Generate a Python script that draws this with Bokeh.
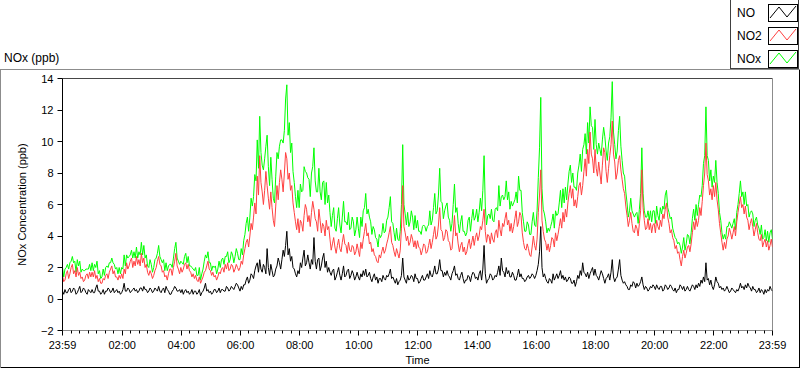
from bokeh.plotting import figure
from bokeh.models import Range1d, FixedTicker, Span, ColumnDataSource, Div
from bokeh.layouts import column
from bokeh.embed import file_html
from bokeh.resources import INLINE

FONT = "Liberation Sans"

# ---------------- data (ppb), one value every 2.5 minutes starting at 23:59 ----------------
step_minutes = 2.5
no_ppb = [
    0.5, 0.3, 0.6, 0.4, 0.4, 0.6, 0.7, 0.4, 0.5, 0.7, 0.6, 0.3, 0.4, 0.6, 0.8, 0.4, 0.5, 0.7, 0.6, 0.4, 0.3, 0.6, 0.5, 0.4,
    0.6, 0.4, 0.4, 0.7, 0.9, 0.5, 0.5, 0.3, 0.4, 0.6, 0.3, 0.5, 0.5, 0.7, 0.6, 0.4, 0.5, 0.7, 0.4, 0.5, 0.6, 0.4, 0.5, 0.3,
    0.4, 0.6, 1.0, 0.5, 0.5, 0.7, 0.6, 0.4, 0.5, 0.6, 0.7, 0.5, 0.6, 0.4, 0.5, 0.7, 0.7, 0.5, 0.8, 0.6, 0.6, 0.4, 0.5, 0.7,
    0.6, 0.4, 0.5, 0.7, 0.6, 0.5, 0.8, 0.5, 0.4, 0.6, 0.7, 0.4, 0.8, 0.6, 0.5, 0.3, 0.3, 0.5, 0.6, 0.8, 0.7, 0.5, 0.5, 0.6,
    0.4, 0.6, 0.3, 0.5, 0.6, 0.4, 0.5, 0.3, 0.4, 0.6, 0.3, 0.5, 0.5, 0.3, 0.4, 0.6, 0.2, 0.4, 0.5, 0.7, 1.0, 0.5, 0.6, 0.4,
    0.5, 0.3, 0.4, 0.6, 0.6, 0.4, 0.5, 0.7, 0.4, 0.6, 0.6, 0.5, 0.5, 0.8, 0.7, 0.5, 0.6, 0.8, 0.7, 0.6, 0.8, 1.0, 0.9, 0.7,
    0.5, 0.8, 0.6, 0.9, 0.9, 1.2, 1.4, 1.0, 1.2, 1.6, 1.5, 1.3, 1.8, 2.1, 2.3, 1.7, 2.5, 1.9, 1.7, 2.2, 2.0, 1.6, 3.2, 2.0,
    1.5, 2.2, 1.8, 1.4, 1.5, 1.9, 2.1, 2.6, 2.3, 1.9, 2.5, 3.1, 2.7, 3.4, 4.3, 2.8, 3.2, 2.4, 2.7, 2.0, 1.9, 1.6, 1.4, 1.8,
    1.6, 2.3, 2.0, 2.6, 3.1, 2.1, 2.3, 2.8, 2.3, 1.9, 2.5, 2.2, 3.9, 2.4, 1.9, 2.5, 2.6, 1.8, 2.1, 2.6, 2.9, 2.0, 2.4, 1.7,
    2.0, 1.7, 1.5, 1.8, 1.9, 1.2, 1.4, 1.7, 2.0, 1.5, 1.2, 1.6, 2.1, 1.4, 1.5, 1.8, 1.9, 1.3, 1.5, 1.8, 1.6, 1.2, 1.4, 1.7,
    1.4, 1.2, 1.6, 1.4, 1.8, 1.5, 1.9, 1.4, 1.5, 1.7, 1.3, 1.1, 1.4, 1.6, 1.2, 1.4, 1.0, 1.3, 1.3, 1.1, 1.5, 1.3, 1.2, 1.5,
    1.4, 1.6, 1.9, 1.3, 1.4, 1.2, 1.0, 1.3, 0.9, 1.1, 1.2, 1.5, 2.6, 1.4, 1.2, 1.0, 1.5, 1.2, 1.3, 1.5, 1.4, 1.1, 1.6, 1.3,
    1.3, 1.0, 1.1, 1.3, 1.5, 1.2, 1.2, 1.4, 1.6, 1.3, 1.8, 1.5, 1.4, 1.7, 2.1, 1.6, 1.6, 1.9, 2.5, 1.8, 1.8, 1.4, 1.7, 1.5,
    1.8, 1.5, 1.4, 1.2, 1.6, 1.8, 2.1, 1.5, 1.6, 1.3, 1.2, 1.5, 1.7, 1.3, 1.0, 1.2, 1.2, 1.5, 1.4, 1.1, 1.5, 1.7, 1.6, 1.3,
    1.4, 1.2, 1.6, 1.8, 1.2, 1.9, 3.4, 1.6, 1.0, 1.2, 1.3, 1.6, 1.5, 1.2, 1.3, 1.5, 1.4, 1.7, 2.1, 1.5, 2.6, 1.8, 1.7, 1.4,
    2.0, 1.6, 1.8, 1.4, 1.4, 1.7, 1.5, 1.2, 1.2, 1.5, 1.9, 1.4, 1.6, 1.3, 1.3, 1.1, 1.2, 1.4, 1.5, 1.3, 1.4, 1.6, 1.5, 1.3,
    1.5, 1.8, 2.2, 3.0, 4.6, 2.0, 1.4, 1.6, 1.3, 1.1, 1.0, 1.3, 1.2, 1.0, 1.6, 1.2, 1.4, 1.6, 1.3, 1.5, 1.8, 1.3, 1.5, 1.2,
    1.4, 1.1, 1.2, 1.4, 1.3, 1.0, 1.0, 1.2, 0.8, 1.1, 1.5, 1.3, 1.8, 1.5, 2.3, 1.7, 1.6, 1.4, 1.7, 1.3, 1.6, 1.8, 2.0, 1.5,
    1.9, 1.5, 1.4, 1.2, 1.5, 1.8, 1.6, 1.3, 1.0, 1.3, 1.4, 1.6, 1.2, 1.7, 2.5, 1.4, 1.1, 1.3, 1.4, 1.9, 2.5, 1.5, 1.2, 1.0,
    1.1, 0.9, 0.8, 0.6, 0.6, 0.9, 0.8, 1.1, 1.0, 0.7, 1.0, 0.8, 0.9, 1.1, 1.4, 0.9, 0.6, 0.8, 0.7, 0.5, 0.6, 0.8, 0.7, 0.9,
    0.8, 0.6, 0.9, 0.7, 0.6, 0.8, 0.8, 0.5, 0.6, 0.9, 0.8, 0.6, 0.7, 0.9, 0.8, 0.6, 0.5, 0.7, 0.4, 0.6, 0.6, 0.9, 0.8, 0.6,
    0.8, 0.5, 0.6, 0.8, 0.6, 0.5, 0.7, 0.9, 0.8, 0.6, 0.9, 0.7, 1.0, 0.8, 1.2, 1.0, 1.4, 1.1, 2.3, 1.2, 1.3, 0.9, 1.2, 0.8,
    0.6, 0.9, 1.4, 1.1, 1.0, 0.7, 0.8, 0.6, 0.7, 0.5, 0.6, 0.8, 0.6, 0.4, 0.5, 0.7, 0.6, 0.5, 0.4, 0.6, 0.5, 0.7, 1.0, 0.7,
    0.8, 0.6, 0.9, 0.7, 1.0, 0.8, 0.7, 0.5, 0.8, 0.6, 0.6, 0.4, 0.5, 0.7, 0.4, 0.6, 0.5, 0.3, 0.6, 0.4, 0.6, 0.5, 0.8, 0.6,
    0.5,
]
no2_ppb = [
    1.5, 1.1, 1.2, 1.6, 1.8, 1.3, 1.6, 2.0, 2.2, 1.6, 1.8, 1.4, 2.0, 1.5, 1.7, 1.3, 1.4, 1.1, 1.2, 1.5, 1.6, 1.3, 1.7, 1.4,
    1.7, 1.4, 1.8, 1.3, 1.5, 1.1, 1.3, 1.0, 1.0, 1.3, 1.2, 1.5, 1.6, 1.3, 1.7, 1.9, 2.1, 1.6, 1.8, 1.4, 1.4, 1.2, 1.5, 1.3,
    1.6, 1.3, 1.9, 1.6, 2.3, 1.9, 2.1, 2.4, 2.6, 2.0, 2.4, 2.1, 2.7, 2.2, 2.5, 2.1, 2.9, 2.3, 2.6, 2.0, 2.2, 1.7, 1.5, 1.8,
    1.6, 1.3, 1.5, 1.8, 2.0, 2.4, 2.7, 2.2, 2.1, 1.7, 1.8, 1.4, 1.5, 1.2, 1.6, 1.9, 1.9, 1.5, 2.0, 2.4, 2.9, 2.1, 1.9, 1.6,
    2.0, 1.7, 1.9, 2.2, 2.3, 1.9, 2.2, 1.8, 1.7, 1.4, 1.6, 1.3, 1.5, 1.2, 1.1, 1.4, 1.0, 1.2, 1.4, 1.7, 1.8, 2.1, 2.4, 1.9,
    1.8, 1.5, 1.7, 1.4, 1.5, 1.2, 1.4, 1.7, 1.6, 1.9, 2.0, 1.7, 2.2, 1.9, 2.3, 1.8, 1.9, 2.2, 2.1, 1.7, 1.9, 2.2, 2.0, 1.8,
    2.0, 2.4, 2.2, 2.8, 3.2, 3.6, 3.8, 3.3, 4.0, 4.8, 4.4, 5.2, 6.1, 5.4, 7.8, 6.6, 9.1, 7.4, 6.8, 6.0, 6.9, 8.1, 7.2, 6.4,
    5.7, 6.8, 5.8, 5.0, 4.6, 5.9, 7.2, 6.3, 7.4, 8.2, 7.6, 6.8, 8.0, 9.3, 8.9, 7.6, 8.0, 6.9, 7.2, 6.1, 5.5, 4.9, 4.4, 5.1,
    4.2, 5.0, 4.8, 4.3, 5.3, 6.0, 5.7, 4.9, 5.3, 4.6, 5.5, 6.2, 5.7, 5.1, 4.9, 4.3, 5.7, 5.0, 4.2, 4.8, 4.6, 4.0, 5.0, 4.4,
    4.6, 3.8, 3.1, 3.5, 3.9, 3.3, 2.9, 3.4, 3.8, 3.2, 3.0, 3.6, 4.1, 3.5, 3.4, 2.9, 3.6, 3.1, 3.0, 3.4, 3.3, 2.8, 3.0, 3.5,
    3.1, 2.7, 3.6, 3.2, 3.8, 4.3, 4.8, 4.0, 4.2, 3.5, 3.6, 3.0, 3.2, 2.8, 2.7, 2.4, 2.3, 2.8, 2.6, 3.0, 3.3, 2.9, 3.1, 3.5,
    3.8, 4.2, 4.6, 3.6, 3.4, 3.0, 2.7, 3.2, 2.9, 2.6, 3.1, 4.5, 7.2, 4.6, 4.2, 3.7, 4.0, 3.4, 3.6, 4.1, 3.8, 3.3, 3.7, 3.2,
    3.7, 3.3, 3.2, 2.8, 3.1, 3.5, 3.4, 2.9, 3.0, 3.4, 3.8, 3.2, 3.6, 4.1, 4.6, 3.8, 4.0, 4.7, 5.8, 4.4, 4.3, 3.7, 3.9, 4.4,
    4.3, 3.7, 3.6, 3.1, 3.2, 4.2, 5.3, 4.0, 4.2, 3.5, 3.0, 3.4, 3.6, 3.0, 3.3, 2.8, 3.0, 3.5, 3.8, 3.2, 3.6, 4.0, 3.4, 3.9,
    4.2, 3.7, 4.0, 4.6, 4.4, 5.0, 5.7, 4.3, 3.6, 4.1, 4.0, 3.5, 4.2, 3.8, 3.6, 4.2, 4.4, 3.9, 5.0, 4.4, 4.0, 4.8, 4.6, 5.1,
    5.5, 4.7, 5.0, 4.3, 4.8, 4.2, 4.6, 5.1, 5.6, 4.6, 4.9, 5.5, 5.3, 4.2, 3.6, 3.2, 3.1, 3.5, 3.2, 2.8, 2.7, 3.3, 4.0, 3.4,
    3.1, 3.8, 5.5, 6.6, 8.2, 5.0, 4.3, 3.8, 3.6, 3.1, 3.5, 3.0, 3.4, 3.9, 3.8, 3.3, 4.2, 3.7, 4.1, 4.6, 5.1, 4.5, 5.5, 4.9,
    5.7, 5.2, 6.1, 6.7, 7.2, 6.4, 7.0, 5.9, 6.3, 5.8, 6.5, 7.2, 7.4, 6.6, 7.2, 8.1, 8.9, 7.8, 9.5, 8.6, 10.6, 9.2, 8.9, 8.0,
    9.5, 8.3, 7.8, 8.7, 8.0, 7.3, 8.5, 9.6, 9.3, 8.1, 7.4, 8.3, 9.1, 9.8, 11.3, 9.2, 8.7, 7.6, 8.0, 8.8, 9.1, 8.2, 7.6, 7.0,
    6.7, 5.9, 5.3, 4.6, 5.0, 5.5, 4.8, 4.3, 4.2, 4.7, 4.5, 4.0, 4.8, 5.6, 8.2, 5.8, 5.0, 4.4, 4.5, 5.1, 4.4, 4.8, 4.2, 4.7,
    4.8, 4.2, 5.0, 4.6, 4.4, 5.0, 4.6, 5.4, 5.1, 5.7, 6.1, 5.2, 4.8, 4.2, 4.4, 3.9, 3.7, 3.2, 3.4, 2.9, 3.0, 2.5, 2.1, 2.7,
    3.1, 2.6, 2.9, 3.3, 3.4, 3.0, 3.5, 4.2, 4.9, 4.4, 5.1, 4.6, 5.0, 5.8, 5.3, 6.2, 7.2, 8.0, 9.9, 7.9, 7.5, 6.6, 7.0, 6.3,
    7.2, 6.5, 7.4, 6.3, 5.7, 4.8, 4.2, 3.6, 3.1, 3.6, 3.2, 3.8, 4.0, 4.5, 4.2, 3.8, 4.2, 4.6, 4.0, 4.9, 5.5, 6.0, 6.5, 5.8,
    6.0, 5.4, 5.9, 5.2, 5.0, 4.4, 4.8, 5.1, 4.6, 4.0, 4.4, 4.8, 4.2, 3.8, 3.7, 4.1, 3.3, 3.6, 3.8, 3.3, 3.7, 3.1, 3.4, 3.8,
    3.3,
]
nox_ppb = [
    2.0, 1.4, 1.9, 2.0, 2.2, 1.9, 2.3, 2.4, 2.7, 2.3, 2.4, 1.7, 2.5, 2.1, 2.4, 1.7, 1.9, 1.8, 1.8, 1.9, 1.9, 1.9, 2.2, 1.8,
    2.3, 1.8, 2.2, 2.0, 2.4, 1.6, 1.8, 1.3, 1.4, 1.9, 1.5, 2.0, 2.1, 2.0, 2.3, 2.3, 2.6, 2.3, 2.2, 1.9, 2.0, 1.6, 2.0, 1.6,
    2.0, 1.9, 2.8, 2.1, 2.8, 2.6, 2.7, 2.8, 3.1, 2.6, 3.0, 2.6, 3.3, 2.6, 3.0, 2.8, 3.6, 2.8, 3.4, 2.6, 2.8, 2.1, 2.0, 2.5,
    2.2, 1.7, 2.0, 2.5, 2.6, 2.9, 3.4, 2.7, 2.5, 2.3, 2.5, 1.8, 2.3, 1.8, 2.1, 2.2, 2.2, 2.0, 2.6, 3.2, 3.6, 2.6, 2.4, 2.2,
    2.4, 2.3, 2.2, 2.7, 2.9, 2.3, 2.7, 2.1, 2.1, 2.0, 1.9, 1.8, 2.0, 1.5, 1.5, 2.0, 1.2, 1.6, 1.9, 2.4, 2.8, 2.6, 3.0, 2.3,
    2.3, 1.8, 2.1, 2.0, 2.1, 1.6, 1.9, 2.4, 2.0, 2.5, 2.6, 2.2, 2.7, 2.7, 3.0, 2.3, 2.5, 3.0, 2.8, 2.3, 2.7, 3.2, 2.9, 2.5,
    2.5, 3.2, 2.8, 3.7, 4.1, 4.8, 5.2, 4.3, 5.2, 6.4, 5.9, 6.5, 7.9, 7.5, 10.1, 8.3, 11.6, 9.3, 8.5, 8.2, 8.9, 9.7, 10.4, 8.4,
    7.2, 9.0, 7.6, 6.4, 6.1, 7.8, 9.3, 8.9, 9.7, 10.1, 10.1, 9.9, 10.7, 12.7, 13.6, 10.4, 11.2, 9.3, 9.9, 8.1, 7.4, 6.5, 5.8, 6.9,
    5.8, 7.3, 6.8, 6.9, 8.4, 8.1, 8.0, 7.7, 7.6, 6.5, 8.0, 8.4, 9.6, 7.5, 6.8, 6.8, 8.3, 6.8, 6.3, 7.4, 7.5, 6.0, 7.4, 6.1,
    6.6, 5.5, 4.6, 5.3, 5.8, 4.5, 4.3, 5.1, 5.8, 4.7, 4.2, 5.2, 6.2, 4.9, 4.9, 4.7, 5.5, 4.4, 4.5, 5.2, 4.9, 4.0, 4.4, 5.2,
    4.5, 3.9, 5.2, 4.6, 5.6, 5.8, 6.7, 5.4, 5.7, 5.2, 4.9, 4.1, 4.6, 4.4, 3.9, 3.8, 3.3, 4.1, 3.9, 4.1, 4.8, 4.2, 4.3, 5.0,
    5.2, 5.8, 6.5, 4.9, 4.8, 4.2, 3.7, 4.5, 3.8, 3.7, 4.3, 6.0, 9.8, 6.0, 5.4, 4.7, 5.5, 4.6, 4.9, 5.6, 5.2, 4.4, 5.3, 4.5,
    5.0, 4.3, 4.3, 4.1, 4.6, 4.7, 4.6, 4.3, 4.6, 4.7, 5.6, 4.7, 5.0, 5.8, 6.7, 5.4, 5.6, 6.6, 8.3, 6.2, 6.1, 5.1, 5.6, 5.9,
    6.1, 5.2, 5.0, 4.3, 4.8, 6.0, 7.3, 5.5, 5.8, 4.8, 4.2, 4.9, 5.3, 4.3, 4.3, 4.0, 4.2, 5.0, 5.2, 4.3, 5.1, 5.7, 5.0, 5.2,
    5.7, 4.9, 5.5, 6.4, 5.6, 6.9, 9.1, 5.9, 4.7, 5.3, 5.4, 5.1, 5.7, 5.0, 4.9, 5.7, 5.8, 5.6, 7.2, 5.9, 6.5, 6.6, 6.3, 6.5,
    7.5, 6.3, 6.8, 5.7, 6.2, 5.9, 6.1, 6.3, 6.8, 6.1, 7.8, 6.9, 6.9, 5.5, 4.9, 4.3, 4.3, 4.9, 4.7, 4.1, 4.1, 4.9, 5.5, 4.7,
    4.6, 5.6, 7.7, 9.6, 12.8, 7.0, 5.7, 5.4, 4.9, 4.2, 4.5, 4.3, 4.6, 4.9, 5.4, 4.5, 5.6, 5.3, 5.4, 6.1, 6.9, 5.8, 7.0, 6.1,
    7.1, 6.3, 7.3, 8.1, 8.5, 7.4, 8.0, 7.1, 7.1, 6.9, 8.0, 8.5, 9.2, 8.1, 9.5, 9.8, 10.5, 9.2, 11.2, 9.9, 12.2, 11.0, 10.9, 9.5,
    11.4, 9.8, 9.2, 9.9, 9.5, 9.1, 10.1, 10.9, 10.3, 9.4, 8.8, 9.9, 10.3, 11.5, 13.8, 10.6, 9.8, 8.9, 9.4, 10.7, 11.6, 9.7, 8.8, 8.0,
    7.8, 6.8, 6.1, 5.2, 5.6, 6.4, 5.6, 5.4, 5.2, 5.4, 5.5, 4.8, 5.7, 6.7, 9.6, 6.7, 5.6, 5.2, 5.2, 5.6, 5.0, 5.6, 4.9, 5.6,
    5.6, 4.8, 5.9, 5.3, 5.0, 5.8, 5.4, 5.9, 5.7, 6.6, 6.9, 5.8, 5.5, 5.1, 5.2, 4.5, 4.2, 3.9, 3.8, 3.5, 3.6, 3.4, 2.9, 3.3,
    3.9, 3.1, 3.5, 4.1, 4.0, 3.5, 4.2, 5.1, 5.7, 5.0, 6.0, 5.3, 6.0, 6.6, 6.5, 7.2, 8.6, 9.1, 12.2, 9.1, 8.8, 7.5, 8.2, 7.1,
    7.8, 7.4, 8.8, 7.4, 6.7, 5.5, 5.0, 4.2, 3.8, 4.1, 3.8, 4.6, 4.6, 4.9, 4.7, 4.5, 4.8, 5.1, 4.4, 5.5, 6.0, 6.7, 7.5, 6.5,
    6.8, 6.0, 6.8, 5.9, 6.0, 5.2, 5.5, 5.6, 5.4, 4.6, 5.0, 5.2, 4.7, 4.5, 4.1, 4.7, 3.8, 3.9, 4.4, 3.7, 4.3, 3.6, 4.2, 4.4,
    3.8,
]
series_names = ["NO", "NO2", "NOx"]
series_colors = ["#000000", "#ff4040", "#00ff00"]

# tick positions in minutes after the first sample (23:59)
tick_minutes = [0, 121, 241, 361, 481, 601, 721, 841, 961, 1081, 1201, 1321, 1440]
tick_labels = ["23:59", "02:00", "04:00", "06:00", "08:00", "10:00", "12:00",
               "14:00", "16:00", "18:00", "20:00", "22:00", "23:59"]
y_ticks = [-2, 0, 2, 4, 6, 8, 10, 12, 14]

minutes = [i * step_minutes for i in range(len(no_ppb))]
src = ColumnDataSource(dict(t=minutes, no=no_ppb, no2=no2_ppb, nox=nox_ppb))

W = 800
HEAD_H = 69
MAIN_H = 299

# ---------------- header: chart caption + legend (HTML text, svg icons) ----------------
row_tops = [4, 27, 50]
items = []
for name, col, top in zip(series_names, series_colors, row_tops):
    items.append(
        f'<span style="position:absolute;left:6px;top:{top + 1}px;line-height:16px;">{name}</span>'
        f'<svg width="30" height="18" style="position:absolute;left:37px;top:{top}px;">'
        f'<rect x="0.5" y="0.5" width="29" height="17" fill="#ffffff" stroke="#000000" stroke-width="1"/>'
        f'<polyline points="2,14 11,3 19,13 28,2" fill="none" stroke="{col}" stroke-width="1"/></svg>'
    )
head_html = (
    f'<div style="position:relative;width:{W}px;height:{HEAD_H}px;font-family:\'{FONT}\';'
    f'font-size:12px;color:#000000;">'
    f'<span style="position:absolute;left:4px;top:51px;line-height:15px;">NOx (ppb)</span>'
    f'<div style="position:absolute;left:730px;top:-1px;width:69px;height:70px;box-sizing:border-box;'
    f'border:1px solid #404040;background:#ffffff;">{"".join(items)}</div>'
    f'</div>'
)
head = Div(text=head_html, width=W, height=HEAD_H, margin=(0, 0, 0, 0))

# ---------------- main chart ----------------
p = figure(width=W, height=MAIN_H, output_backend="svg", toolbar_location=None,
           x_range=Range1d(0, 1440), y_range=Range1d(-2, 14),
           min_border_left=62, min_border_right=28, min_border_top=9, min_border_bottom=38,
           styles={"box-shadow": "inset 1px 1px 0 0 #8c8c8c, inset -1px -1px 0 0 #000000"})
p.background_fill_color = "#ffffff"
p.border_fill_color = None
p.grid.visible = False
p.outline_line_color = "#8c8c8c"

p.line("t", "nox", source=src, line_color=series_colors[2], line_width=1)
p.line("t", "no2", source=src, line_color=series_colors[1], line_width=1)
p.line("t", "no", source=src, line_color=series_colors[0], line_width=1)

minor = []
for a, b in zip(tick_minutes[:-1], tick_minutes[1:]):
    minor += [a + k * (b - a) / 7 for k in range(1, 7)]
p.xaxis.ticker = FixedTicker(ticks=tick_minutes, minor_ticks=minor)
p.xaxis.major_label_overrides = {t: l for t, l in zip(tick_minutes, tick_labels)}
p.xaxis.axis_line_color = "#8c8c8c"
p.xaxis.major_tick_out = 5
p.xaxis.major_tick_in = 0
p.xaxis.minor_tick_out = 3
p.xaxis.minor_tick_in = 0
p.xaxis.major_tick_line_color = "#000000"
p.xaxis.minor_tick_line_color = "#000000"
p.xaxis.major_label_standoff = 3
p.xaxis.axis_label = "Time"
p.xaxis.axis_label_standoff = 0

p.yaxis.ticker = FixedTicker(ticks=y_ticks, minor_ticks=[])
p.yaxis.axis_line_color = "#000000"
p.yaxis.major_tick_out = 5
p.yaxis.major_tick_in = 0
p.yaxis.major_tick_line_color = "#000000"
p.yaxis.major_label_standoff = 4
p.yaxis.axis_label = "NOx Concentration (ppb)"
p.yaxis.axis_label_standoff = 10

for ax in (p.xaxis, p.yaxis):
    ax.major_label_text_font = FONT
    ax.major_label_text_font_size = "11px"
    ax.major_label_text_color = "#000000"
    ax.axis_label_text_font = FONT
    ax.axis_label_text_font_size = "11px"
    ax.axis_label_text_font_style = "normal"
    ax.axis_label_text_color = "#000000"

p.add_layout(Span(location=14, dimension="width", line_color="#000000", line_width=1))

layout = column(head, p, spacing=0)
open("out.html", "w").write(file_html(layout, INLINE))
